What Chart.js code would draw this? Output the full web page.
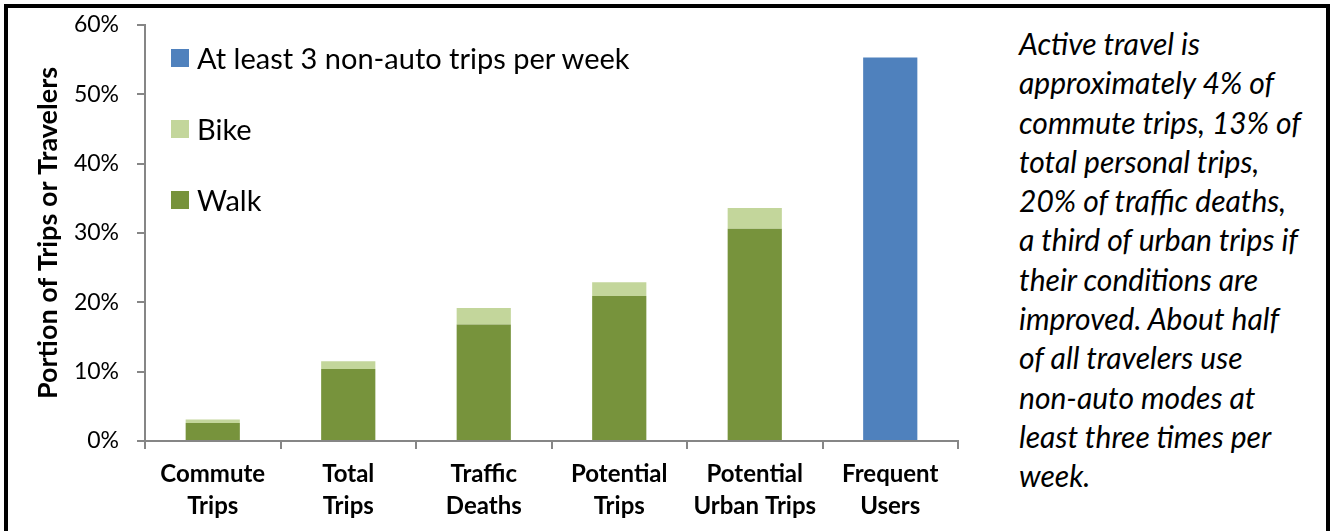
<!DOCTYPE html>
<html>
<head>
<meta charset="utf-8">
<script src="https://cdn.jsdelivr.net/npm/chart.js@4.4.1/dist/chart.umd.min.js"></script>
<style>
  html, body { margin: 0; padding: 0; background: #fff; overflow: hidden; }
  body { width: 1334px; height: 531px; position: relative; font-family: Lato, "Open Sans", sans-serif; }
  #frame {
    position: absolute; left: 4px; top: 4px; width: 1318px; height: 560px;
    border: 4px solid #000; box-sizing: content-box;
  }
  #chartBox { position: absolute; left: 0; top: 0; width: 1000px; height: 531px; }
  #legend { position: absolute; left: 171px; top: 0; }
  .legend-item { position: absolute; left: 0; white-space: nowrap; display: flex; align-items: center; }
  .legend-swatch { width: 18px; height: 18px; margin-right: 8px; }
  .legend-text { font-size: 29px; color: #000; line-height: 34px; }
  #note {
    position: absolute; left: 1019px; top: 24px; width: 305px;
    font-style: italic; font-size: 30px; line-height: 39.3px; color: #000;
    white-space: nowrap;
  }
</style>
</head>
<body>
<div id="frame"></div>
<div id="chartBox"><canvas id="activeChart" width="1000" height="531"></canvas></div>
<div id="legend"></div>
<div id="note">
  Active travel is<br>
  approximately 4% of<br>
  commute trips, 13% of<br>
  total personal trips,<br>
  20% of traffic deaths,<br>
  a third of urban trips if<br>
  their conditions are<br>
  improved. About half<br>
  of all travelers use<br>
  non-auto modes at<br>
  least three times per<br>
  week.
</div>
<script>
// values (percent)
const categories = [
  ["Commute", "Trips"],
  ["Total", "Trips"],
  ["Traffic", "Deaths"],
  ["Potential", "Trips"],
  ["Potential", "Urban Trips"],
  ["Frequent", "Users"],
];
const walkShare = [2.6, 10.4, 16.8, 20.9, 30.6, null];
const bikeShare = [0.5, 1.1, 2.4, 2.0, 3.0, null];
const frequentShare = [null, null, null, null, null, 55.3];
const yTicks = [0, 10, 20, 30, 40, 50, 60];

const axisGray = "#868686";
const fontFamily = "Lato, 'Open Sans', sans-serif";

const datasets = [
  { label: "Walk", data: walkShare, backgroundColor: "#77933C" },
  { label: "Bike", data: bikeShare, backgroundColor: "#C3D69B" },
  { label: "At least 3 non-auto trips per week", data: frequentShare, backgroundColor: "#4F81BD" },
];

function buildLegend(chart) {
  const box = document.getElementById("legend");
  box.innerHTML = "";
  const centers = [58, 129, 200];
  chart.data.datasets.slice().reverse().forEach((ds, i) => {
    const item = document.createElement("div");
    item.className = "legend-item";
    item.style.top = (centers[i] - 17) + "px";
    item.innerHTML = `<span class="legend-swatch" style="background:${ds.backgroundColor}"></span>` +
      `<span class="legend-text">${ds.label}</span>`;
    box.appendChild(item);
  });
}

const chart = new Chart(document.getElementById("activeChart"), {
  type: "bar",
  data: {
    labels: categories,
    datasets: datasets.map((ds) => ({
      ...ds,
      barPercentage: 0.4,
      categoryPercentage: 1,
      borderWidth: 0,
    })),
  },
  options: {
    responsive: false,
    animation: false,
    layout: { padding: { top: 25, right: 42, left: 0, bottom: 0 } },
    plugins: {
      legend: { display: false },
      tooltip: { enabled: false },
    },
    scales: {
      x: {
        stacked: true,
        afterFit: (scale) => { scale.height = 90; scale.paddingLeft = 0; scale.paddingRight = 0; },
        grid: {
          display: true,
          offset: true,
          drawOnChartArea: false,
          color: axisGray,
          lineWidth: 2,
          tickLength: 8,
        },
        border: { color: axisGray, width: 2 },
        ticks: {
          color: "#000",
          padding: 9,
          maxRotation: 0,
          autoSkip: false,
          font: { family: fontFamily, size: 24, weight: "bold", lineHeight: 1.33 },
        },
      },
      y: {
        stacked: true,
        min: 0,
        max: 60,
        afterFit: (scale) => { scale.width = 145; scale.paddingTop = 0; scale.paddingBottom = 0; },
        afterBuildTicks: (scale) => { scale.ticks = yTicks.map((v) => ({ value: v })); },
        grid: {
          display: true,
          drawOnChartArea: false,
          color: axisGray,
          lineWidth: 2,
          tickLength: 8,
        },
        border: { color: axisGray, width: 2 },
        ticks: {
          color: "#000",
          padding: 18,
          callback: (v) => v + "%",
          font: { family: fontFamily, size: 23 },
        },
        title: {
          display: true,
          text: "Portion of Trips or Travelers",
          color: "#000",
          padding: { top: 32, bottom: 0 },
          font: { family: fontFamily, size: 27, weight: "bold", lineHeight: 1.2 },
        },
      },
    },
  },
});

buildLegend(chart);
</script>
</body>
</html>
